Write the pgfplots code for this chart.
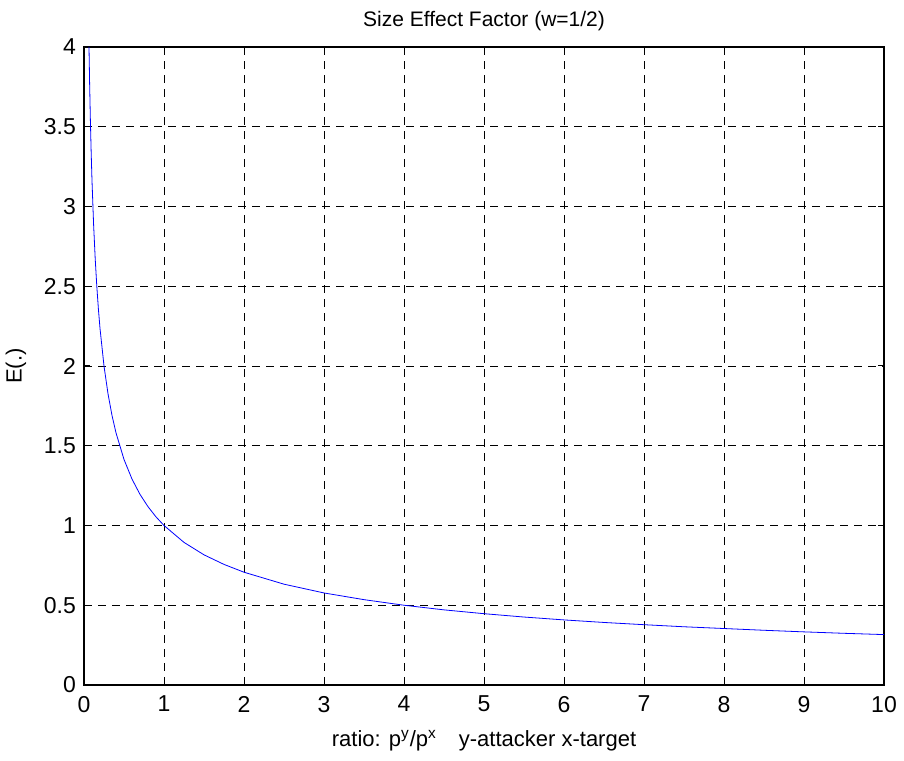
\documentclass[border=0pt]{standalone}
\usepackage{fontspec}
\setmainfont{Liberation Sans}
\usepackage{pgfplots}
\pgfplotsset{compat=1.18}
\begin{document}
\fontsize{11.5}{13}\selectfont
\begin{tikzpicture}
\begin{axis}[
    name=ax,
    scale only axis, width=400pt, height=319pt,
    xmin=0, xmax=10, ymin=0, ymax=4,
    xtick={0,1,...,10}, ytick={0,0.5,...,4},
    yticklabels={0,0.5,1,1.5,2,2.5,3,3.5,4},
    /pgf/number format/assume math mode=true,
    tick label style={font=\fontsize{11.5}{13}\selectfont},
    xticklabel style={yshift=-1.5pt},
    label style={font=\fontsize{11}{13}\selectfont},
    title style={font=\fontsize{10.5}{12}\selectfont, yshift=-2pt},
    tick align=inside, major tick length=3pt,
    tick style={black, line width=0.5pt},
    axis line style={black, line width=0.6pt},
    grid=major, major grid style={black, dashed, line width=0.4pt, dash pattern=on 4pt off 3pt},
    title={Size Effect Factor (w=1/2)},
    xlabel={ratio: p\textsuperscript{y}/p\textsuperscript{x}\quad y-attacker x-target},
    ylabel={E(.)},
    xlabel style={yshift=-1pt},
    ylabel style={yshift=1pt},
]
\addplot[blue, line width=0.4pt] coordinates {
 (0.0625,4) (0.07,3.780) (0.08,3.536) (0.09,3.333) (0.1,3.162) (0.12,2.887)
 (0.14,2.673) (0.16,2.5) (0.18,2.357) (0.2,2.236) (0.25,2) (0.3,1.826)
 (0.35,1.690) (0.4,1.581) (0.5,1.414) (0.6,1.291) (0.7,1.195) (0.8,1.118)
 (0.9,1.054) (1,1) (1.25,0.894) (1.5,0.816) (1.75,0.756) (2,0.707)
 (2.5,0.632) (3,0.577) (3.5,0.535) (4,0.5) (4.5,0.471) (5,0.447)
 (5.5,0.426) (6,0.408) (6.5,0.392) (7,0.378) (7.5,0.365) (8,0.354)
 (8.5,0.343) (9,0.333) (9.5,0.324) (10,0.316)};
\end{axis}
\pgfresetboundingbox
\path ([shift={(-42pt,-38pt)}]ax.south west) rectangle ([shift={(10pt,23.5pt)}]ax.north east);
\end{tikzpicture}
\end{document}
